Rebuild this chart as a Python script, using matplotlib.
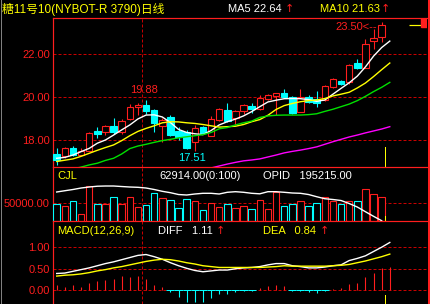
import numpy as np
import matplotlib
matplotlib.use("Agg")
import matplotlib.pyplot as plt
from matplotlib.lines import Line2D
from matplotlib.patches import Rectangle
from matplotlib.ticker import FormatStrFormatter

# --------------------------------------------------------------------
# Data (daily candles + indicators)
# --------------------------------------------------------------------
opens = [17.35, 17.26, 17.61, 17.31, 17.50, 18.42, 18.39, 18.67, 18.36, 18.98,
         19.52, 19.63, 19.40, 18.67, 19.08, 18.42, 18.36, 17.92, 18.62, 18.20,
         18.93, 19.40, 19.01, 19.36, 19.58, 19.43, 19.90, 20.05, 20.17, 20.01,
         19.31, 20.01, 19.89, 19.86, 20.45, 20.76, 20.68, 21.57, 21.36, 22.60, 22.80]
highs = [17.61, 17.69, 17.72, 17.61, 18.36, 18.62, 18.68, 19.04, 18.96, 19.67,
         19.74, 19.88, 19.45, 19.00, 19.16, 18.62, 18.45, 18.68, 18.65, 19.12,
         19.48, 19.74, 19.40, 19.66, 19.70, 20.09, 20.14, 20.20, 20.35, 20.05,
         20.36, 20.10, 20.29, 20.55, 20.90, 20.80, 21.52, 21.75, 22.68, 23.15, 23.50]
lows = [16.84, 17.16, 17.25, 17.28, 17.48, 18.08, 18.23, 18.30, 18.30, 18.95,
        19.16, 19.20, 18.39, 17.92, 18.20, 17.98, 17.60, 17.51, 18.28, 18.18,
        18.90, 18.85, 18.70, 19.20, 19.25, 19.40, 19.85, 19.15, 19.95, 19.20,
        19.28, 19.70, 19.52, 19.80, 20.40, 20.55, 20.62, 21.30, 21.34, 22.22, 22.57]
closes = [17.07, 17.61, 17.30, 17.50, 18.31, 18.27, 18.65, 18.36, 18.88, 19.52,
          19.63, 19.35, 18.78, 18.93, 18.23, 18.15, 17.64, 18.54, 18.31, 18.98,
          19.43, 18.90, 19.36, 19.63, 19.46, 19.95, 20.09, 20.17, 20.01, 19.24,
          20.01, 19.78, 19.71, 20.51, 20.84, 20.59, 21.49, 21.33, 22.47, 22.76, 23.35]

ma5 = [17.15, 17.19, 17.30, 17.46, 17.61, 17.85, 18.00, 18.23, 18.47, 18.70,
       18.98, 19.16, 19.17, 19.07, 18.81, 18.49, 18.35, 18.29, 18.25, 18.44,
       18.70, 18.85, 18.97, 19.12, 19.32, 19.55, 19.77, 19.85, 19.92, 19.93,
       19.92, 19.88, 19.80, 19.86, 20.13, 20.40, 20.66, 20.97, 21.40, 21.90, 22.30, 22.60]
ma10 = [17.00, 17.06, 17.12, 17.24, 17.38, 17.52, 17.65, 17.77, 17.97, 18.20,
        18.40, 18.54, 18.66, 18.80, 18.85, 18.84, 18.80, 18.77, 18.72, 18.66,
        18.60, 18.62, 18.64, 18.72, 18.85, 18.95, 19.15, 19.42, 19.60, 19.70,
        19.78, 19.83, 19.86, 19.93, 20.05, 20.13, 20.22, 20.42, 20.65, 20.95, 21.27, 21.58]
ma20 = [16.50, 16.58, 16.66, 16.74, 16.84, 16.92, 17.05, 17.15, 17.35, 17.60,
        17.72, 17.80, 17.89, 17.97, 18.03, 18.10, 18.15, 18.20, 18.25, 18.35,
        18.52, 18.58, 18.70, 18.80, 18.88, 19.05, 19.12, 19.15, 19.16, 19.16,
        19.16, 19.18, 19.22, 19.33, 19.43, 19.55, 19.67, 19.83, 20.03, 20.25, 20.45, 20.68]
ma60 = [np.nan] * 18 + [16.62, 16.70, 16.79, 16.88, 16.96, 17.03, 17.07, 17.12,
                        17.21, 17.30, 17.40, 17.47, 17.53, 17.60, 17.68, 17.80,
                        17.92, 18.03, 18.14, 18.23, 18.33, 18.42, 18.51, 18.62]

volume = [45700, 41100, 53800, 18800, 94900, 45700, 45700, 64500, 45700, 64500,
          37600, 43800, 75300, 61800, 56400, 34900, 59100, 55400, 29600, 50000,
          37600, 46500, 34900, 41100, 32300, 57300, 32300, 78000, 41100, 46500,
          53800, 41100, 48400, 64500, 53800, 46500, 53800, 53800, 86000, 72600, 64500]
# open interest curve, drawn in the volume panel's scale
oi_curve = [78800, 82200, 85500, 89500, 92200, 94300, 94900, 94900, 93500, 92200,
            91400, 89500, 85500, 80600, 76900, 72000, 70700, 73400, 75300, 75300,
            73400, 78000, 79600, 78000, 75300, 73900, 79600, 79600, 78000, 76100,
            75300, 72000, 66100, 60700, 58600, 55900, 47800, 38400, 25800, 13400, 1600]

diff = [0.39, 0.40, 0.44, 0.48, 0.52, 0.57, 0.62, 0.66, 0.71, 0.76,
        0.81, 0.83, 0.78, 0.72, 0.64, 0.57, 0.51, 0.46, 0.43, 0.45,
        0.47, 0.47, 0.50, 0.52, 0.53, 0.55, 0.59, 0.62, 0.62, 0.57,
        0.55, 0.52, 0.52, 0.54, 0.57, 0.59, 0.69, 0.74, 0.80, 0.90, 1.00, 1.11]
dea = [0.33, 0.35, 0.36, 0.38, 0.41, 0.45, 0.48, 0.52, 0.55, 0.59,
       0.63, 0.67, 0.70, 0.72, 0.71, 0.68, 0.64, 0.61, 0.57, 0.55,
       0.53, 0.53, 0.53, 0.53, 0.53, 0.53, 0.54, 0.55, 0.57, 0.56,
       0.56, 0.56, 0.56, 0.56, 0.57, 0.58, 0.60, 0.64, 0.68, 0.73, 0.78, 0.84]
macd = [0.12, 0.08, 0.12, 0.08, 0.17, 0.22, 0.25, 0.27, 0.33, 0.31,
        0.33, 0.27, 0.12, 0.08, -0.03, -0.15, -0.26, -0.26, -0.26, -0.19,
        -0.09, -0.09, -0.03, -0.01, -0.01, 0.05, 0.10, 0.12, 0.10, -0.01,
        -0.01, -0.03, -0.06, -0.01, 0.02, 0.05, 0.15, 0.17, 0.32, 0.39, 0.51, 0.54]

price_ticks = [18, 20, 22]
vol_ticks = [50000]
macd_ticks = [0.0, 0.5, 1.0]

title = "糖11号10(NYBOT-R 3790)日线"
ma5_label, ma10_label = 22.64, 21.63
hi_day, lo_day = 11, 17   # marked swing high / swing low

# --------------------------------------------------------------------
# Style
# --------------------------------------------------------------------
plt.rcParams["font.family"] = ["Liberation Sans", "Noto Sans CJK SC", "DejaVu Sans"]

RED = "#ff1e1e"
GRID = "#c80000"
CYAN = "#00ffff"
YEL = "#ffff00"
GREEN = "#00e000"
MAG = "#ff00ff"
PX = 0.72  # one pixel in points
FS = 8

W, H = 430, 304
fig = plt.figure(figsize=(W / 100, H / 100), dpi=100, facecolor="black")


def px_axes(x0, y0, x1, y1):
    return fig.add_axes([x0 / W, 1 - y1 / H, (x1 - x0) / W, (y1 - y0) / H])


def px_text(x, y, s, color, size=FS, family=None):
    kw = {"family": family} if family else {}
    fig.text(x / W, 1 - y / H, s, color=color, va="center", ha="left", fontsize=size, **kw)


def arrow(x, y):
    px_text(x, y, "↑", RED, size=8, family=["DejaVu Sans"])


ax_k = px_axes(53, 18, 427, 167)
ax_v = px_axes(53, 167, 427, 221.3)
ax_m = px_axes(53, 221.3, 427, 304)

for ax in (ax_k, ax_v, ax_m):
    ax.set_facecolor("black")
    ax.set_xlim(-0.455, 45.58)
    ax.set_xticks([])
    for s in ("right", "bottom"):
        ax.spines[s].set_visible(False)
    for s in ("left", "top"):
        ax.spines[s].set_color(RED)
        ax.spines[s].set_linewidth(1.2 * PX)
    ax.tick_params(axis="y", length=0, pad=2.2, labelcolor=RED, labelsize=FS)
    ax.yaxis.set_major_formatter(FormatStrFormatter("%.2f"))
    ax.axvline(10.5, color=GRID, lw=PX, ls=(0, (3, 2)), zorder=1)

dash = dict(color=GRID, lw=PX, ls=(0, (3, 2)), zorder=1)

# --------------------------------------------------------------------
# Candles
# --------------------------------------------------------------------
o = np.array(opens)
h = np.array(highs)
l = np.array(lows)
c = np.array(closes)
idx = np.arange(len(c))
up = c >= o
cols = np.where(up, RED, CYAN)

ax_k.set_ylim(16.744, 23.674)
ax_k.set_yticks(price_ticks)
for y in price_ticks:
    ax_k.axhline(y, **dash)

top = np.maximum(o, c)
bot = np.minimum(o, c)
ax_k.vlines(idx, top, h, colors=cols, lw=1.1 * PX, zorder=3)
ax_k.vlines(idx, l, bot, colors=cols, lw=1.1 * PX, zorder=3)
ax_k.bar(idx[up], (c - o)[up], bottom=o[up], width=0.8, facecolor="black",
         edgecolor=RED, lw=1.1 * PX, zorder=4)
ax_k.bar(idx[~up], (o - c)[~up], bottom=c[~up], width=0.8, facecolor=CYAN,
         edgecolor=CYAN, lw=1.1 * PX, zorder=4)

ind = np.arange(len(ma5))
ax_k.plot(ind, ma5, color="white", lw=1.0, zorder=5)
ax_k.plot(ind, ma10, color=YEL, lw=1.0, zorder=5)
ax_k.plot(ind, ma20, color=GREEN, lw=1.0, zorder=5)
ax_k.plot(ind, ma60, color=MAG, lw=1.0, zorder=5)

ax_k.annotate(f"{h[hi_day]:.2f}", xy=(hi_day, h[hi_day]), xytext=(-2, 10),
              textcoords="offset pixels", ha="center", va="center", color=RED, fontsize=FS)
ax_k.annotate(f"{l[lo_day]:.2f}", xy=(lo_day, l[lo_day]), xytext=(-3, -7),
              textcoords="offset pixels", ha="center", va="center", color=CYAN, fontsize=FS)
ax_k.annotate(f"{h[-1]:.2f}<--", xy=(idx[-1], h[-1]), xytext=(-5, -5),
              textcoords="offset pixels", ha="right", va="center", color=RED, fontsize=FS)

# last price marker at the right edge
ax_k.hlines(c[-1], 43.4, 44.85, color=YEL, lw=1.2 * PX, zorder=5)
ax_k.add_patch(Rectangle((44.9, c[-1] - 0.1), 0.75, 0.5, color=RED, zorder=6))
ax_k.axvline(40.45, ymin=0, ymax=20 / 149, color=YEL, lw=PX, zorder=6)

# --------------------------------------------------------------------
# Volume + open interest
# --------------------------------------------------------------------
ax_v.set_ylim(0, 146000)
ax_v.set_yticks(vol_ticks)
for y in vol_ticks:
    ax_v.axhline(y, **dash)
ax_v.bar(idx, volume, width=0.8, facecolor="black", edgecolor=cols, lw=1.1 * PX, zorder=3)
ax_v.plot(idx, oi_curve, color="white", lw=1.0, zorder=4)
ax_v.axvline(40.45, ymin=0, ymax=5 / 54.3, color=YEL, lw=PX, zorder=6)

# --------------------------------------------------------------------
# MACD
# --------------------------------------------------------------------
m = np.array(macd)
ax_m.set_ylim(-0.318, 1.601)
ax_m.set_yticks(macd_ticks)
for y in macd_ticks:
    ax_m.axhline(y, **dash)
neg = m < 0
ax_m.hlines(np.zeros(neg.sum()), ind[neg] - 0.5, ind[neg] + 0.5, color=CYAN, lw=PX, zorder=2)
ax_m.vlines(ind, 0, m, colors=np.where(neg, CYAN, RED), lw=1.1 * PX, zorder=3)
ax_m.plot(ind, diff, color="white", lw=1.0, zorder=4)
ax_m.plot(ind, dea, color=YEL, lw=1.0, zorder=4)
ax_m.axvline(40.45, ymin=0, ymax=9 / 82.7, color=YEL, lw=PX, zorder=6)

# --------------------------------------------------------------------
# Header texts
# --------------------------------------------------------------------
px_text(2, 9, title, YEL, size=8.5)
px_text(228, 9, f"MA5 {ma5_label:.2f}", "white")
arrow(285, 9)
px_text(320, 9, f"MA10 {ma10_label:.2f}", YEL)
arrow(381, 9)

px_text(57, 176, "CJL", YEL)
px_text(159, 176, "62914.00(0:100)", "white")
px_text(263, 176, "OPID   195215.00", "white")

px_text(57, 231, "MACD(12,26,9)", YEL)
px_text(158, 231, f"DIFF   {diff[-1]:.2f}", "white")
arrow(216, 231)
px_text(263, 231, f"DEA   {dea[-1]:.2f}", YEL)
arrow(320, 231)

# frame lines on the figure edges
fig.add_artist(Line2D([428.5 / W] * 2, [0, 1], color=RED, lw=3 * PX))
fig.add_artist(Line2D([0.5 / W] * 2, [0, 1], color="#808080", lw=PX))

fig.savefig("out.png", dpi=100, facecolor="black")
